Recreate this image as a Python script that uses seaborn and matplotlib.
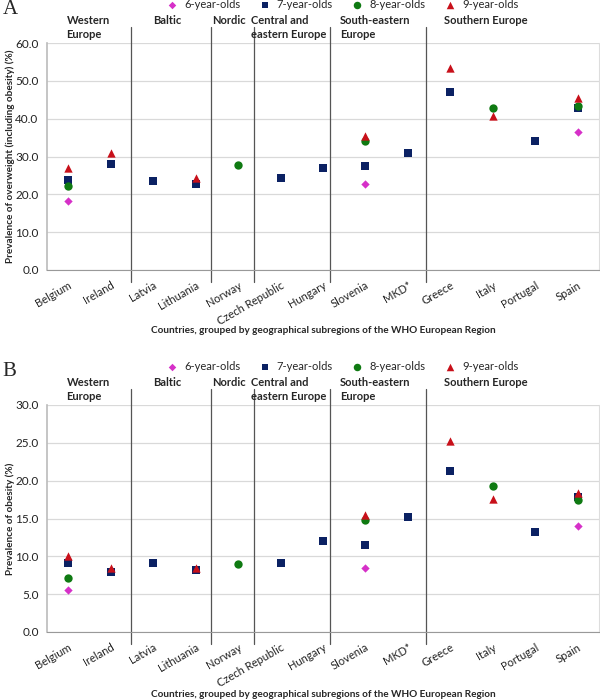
import matplotlib
matplotlib.use('Agg')
import matplotlib.pyplot as plt
import matplotlib.transforms as mtransforms
import numpy as np
import pandas as pd
import seaborn as sns

# countries in plotting order
countries = ['Belgium', 'Ireland', 'Latvia', 'Lithuania', 'Norway',
             'Czech Republic', 'Hungary', 'Slovenia', 'MKD*', 'Greece',
             'Italy', 'Portugal', 'Spain']
ages = ['6-year-olds', '7-year-olds', '8-year-olds', '9-year-olds']
nan = np.nan

# panel A: overweight (including obesity), %
ow_6 = [18.2, nan, nan, nan, nan, nan, nan, 22.7, nan, nan, nan, nan, 36.4]
ow_7 = [23.8, 28.0, 23.5, 22.8, nan, 24.3, 26.9, 27.5, 31.0, 47.1, nan, 34.1, 42.8]
ow_8 = [22.1, nan, nan, nan, 27.7, nan, nan, 34.2, nan, nan, 42.7, nan, 43.3]
ow_9 = [26.9, 31.0, nan, 24.4, nan, nan, nan, 35.3, nan, 53.4, 40.8, nan, 45.5]

# panel B: obesity, %
ob_6 = [5.5, nan, nan, nan, nan, nan, nan, 8.4, nan, nan, nan, nan, 14.0]
ob_7 = [9.1, 7.9, 9.1, 8.2, nan, 9.1, 12.0, 11.5, 15.2, 21.3, nan, 13.2, 17.9]
ob_8 = [7.2, nan, nan, nan, 9.0, nan, nan, 14.8, nan, nan, 19.3, nan, 17.4]
ob_9 = [10.1, 8.4, nan, 8.5, nan, nan, nan, 15.4, nan, 25.3, 17.6, nan, 18.4]

regions = ['Western\nEurope', 'Baltic', 'Nordic', 'Central and\neastern Europe',
           'South-eastern\nEurope', 'Southern Europe']
region_label_x = [-0.04, 2.0, 3.4, 4.3, 6.4, 8.85]
separators_x = [1.48, 3.36, 4.38, 6.17, 8.42]

colors = {'6-year-olds': '#D630C8', '7-year-olds': '#0B2163',
          '8-year-olds': '#0F7A12', '9-year-olds': '#C8101A'}
markers = {'6-year-olds': 'D', '7-year-olds': 's',
           '8-year-olds': 'o', '9-year-olds': '^'}
sizes = {'6-year-olds': 18, '7-year-olds': 30,
         '8-year-olds': 36, '9-year-olds': 36}


def to_long(series):
    rows = []
    for age, vals in zip(ages, series):
        for i, v in enumerate(vals):
            if not np.isnan(v):
                rows.append({'pos': i, 'country': countries[i], 'age': age, 'value': v})
    return pd.DataFrame(rows)


def draw_panel(fig, rect, df, ymax, ystep, ylabel, letter, xlabel_y):
    ax = fig.add_axes(rect)
    for age in ages:
        sub = df[df.age == age]
        sns.scatterplot(data=sub, x='pos', y='value', color=colors[age],
                        marker=markers[age], s=sizes[age], linewidth=0,
                        label=age, ax=ax, zorder=3)
    ax.set_xlim(-0.5, 12.5)
    ax.set_ylim(0, ymax)
    ax.set_yticks(np.arange(0, ymax + 0.01, ystep))
    ax.set_yticklabels(['%.1f' % t for t in np.arange(0, ymax + 0.01, ystep)])
    ax.set_xticks(range(len(countries)))
    ax.set_xticklabels(countries, rotation=30, ha='right', rotation_mode='anchor')
    ax.tick_params(axis='x', direction='inout', length=6, color='#999999',
                   labelsize=8, pad=4, labelcolor='#222222')
    ax.tick_params(axis='y', length=3, color='#cccccc', labelsize=8.5,
                   pad=3, labelcolor='#222222')
    ax.grid(axis='y', color='#d9d9d9', linewidth=0.9)
    ax.grid(axis='x', visible=False)
    ax.set_axisbelow(True)
    ax.spines['top'].set_visible(False)
    ax.spines['right'].set_color('#dddddd')
    ax.spines['left'].set_color('#bbbbbb')
    ax.spines['left'].set_linewidth(1.2)
    ax.spines['bottom'].set_color('#999999')

    ax.set_ylabel(ylabel, fontsize=7.2, fontweight='bold')
    ax.yaxis.set_label_coords(-0.058, 0.5)
    ax.set_xlabel('Countries, grouped by geographical subregions of the WHO European Region',
                  fontsize=7.2, fontweight='bold')
    ax.xaxis.set_label_coords(0.5, xlabel_y)

    trans = mtransforms.blended_transform_factory(ax.transData, ax.transAxes)
    for sx in separators_x:
        ax.plot([sx, sx], [-0.052, 1.072], color='#555555', linewidth=0.9,
                transform=trans, clip_on=False)
    for name, rx in zip(regions, region_label_x):
        ax.text(rx, 1.125, name, transform=trans, fontsize=8, fontweight='bold',
                ha='left', va='top', linespacing=1.35)

    handles, labels = ax.get_legend_handles_labels()
    ax.legend(handles, labels, loc='center', ncol=4, frameon=False,
              bbox_to_anchor=(0.53, 1.168), fontsize=8, handletextpad=0.1,
              columnspacing=1.2, markerscale=0.9, borderaxespad=0)
    fig.text(0.004, rect[1] + rect[3] + 0.0485, letter, fontsize=15,
             family='Liberation Serif', va='center', ha='left')
    return ax


def main():
    sns.set_style('white')
    plt.rcParams['font.family'] = ['Lato', 'DejaVu Sans']

    fig = plt.figure(figsize=(6, 7), dpi=100)
    df_a = to_long([ow_6, ow_7, ow_8, ow_9])
    df_b = to_long([ob_6, ob_7, ob_8, ob_9])

    draw_panel(fig, [47 / 600, 1 - 270 / 700, 552 / 600, 227 / 700], df_a, 60, 10,
               'Prevalence of overweight (including obesity) (%)', 'A', -0.245)
    draw_panel(fig, [47 / 600, 1 - 632 / 700, 552 / 600, 227 / 700], df_b, 30, 5,
               'Prevalence of obesity (%)', 'B', -0.255)

    fig.savefig('out.png', dpi=100)
    plt.close(fig)


if __name__ == '__main__':
    main()
